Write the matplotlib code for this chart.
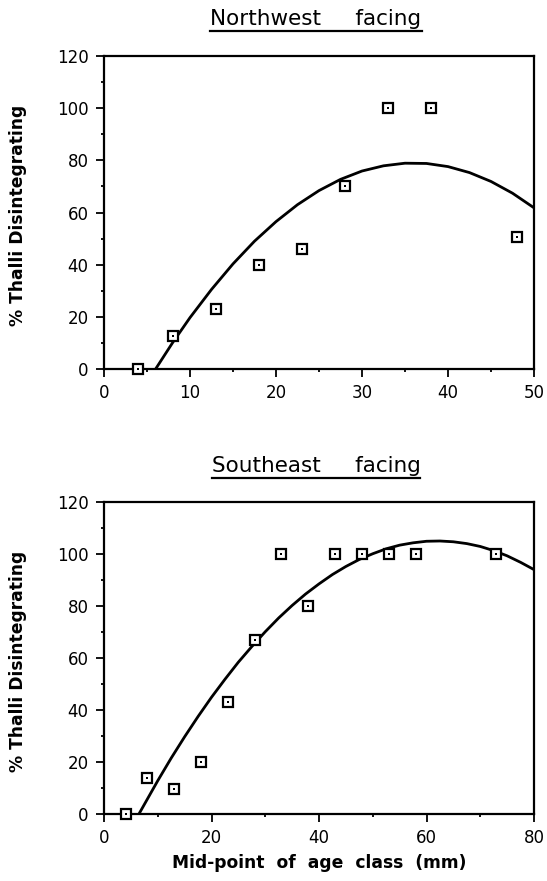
import matplotlib
matplotlib.use("Agg")
import matplotlib.pyplot as plt
from matplotlib.lines import Line2D
from matplotlib.ticker import MultipleLocator

# ---- data ----
nw_x = [4, 8, 13, 18, 23, 28, 33, 38, 48]
nw_y = [0, 12.5, 23, 40, 46, 70, 100, 100, 50.5]
nw_curve_x = [6, 8, 10, 12.5, 15, 17.5, 20, 22.5, 25, 27.5, 30, 32.5, 35, 37.5, 40, 42.5, 45, 47.5, 50]
nw_curve_y = [0, 10.2, 19.7, 30.5, 40.3, 49.0, 56.5, 63.0, 68.4, 72.7, 75.9, 77.9, 78.9, 78.8, 77.6, 75.3, 71.9, 67.4, 61.8]

se_x = [4, 8, 13, 18, 23, 28, 33, 38, 43, 48, 53, 58, 73]
se_y = [0, 14, 9.5, 20, 43, 67, 100, 80, 100, 100, 100, 100, 100]
se_curve_x = [6.5, 10, 12.5, 15, 17.5, 20, 22.5, 25, 27.5, 30, 32.5, 35, 37.5, 40, 42.5, 45, 47.5, 50,
              52.5, 55, 57.5, 60, 62.5, 65, 67.5, 70, 72.5, 75, 77.5, 80]
se_curve_y = [0, 12.8, 21.5, 29.7, 37.5, 44.9, 51.8, 58.4, 64.4, 70.1, 75.4, 80.2, 84.6, 88.5, 92.1, 95.2, 97.9, 100.1,
              102.0, 103.4, 104.3, 104.9, 105.0, 104.7, 104.0, 102.9, 101.3, 99.3, 96.8, 94.0]

titles = ["Northwest     facing", "Southeast     facing"]
ylabel = "% Thalli Disintegrating"
xlabel = "Mid-point  of  age  class  (mm)"

W, H = 547, 881
fig = plt.figure(figsize=(W / 100, H / 100), dpi=100)
plt.rcParams['font.family'] = ['DejaVu Sans']

def px_axes(left, top, right, bottom):
    return fig.add_axes([left / W, 1 - bottom / H, (right - left) / W, (bottom - top) / H])

ax1 = px_axes(104, 56, 534, 369)
ax2 = px_axes(104, 502, 534, 814)

panels = [
    (ax1, nw_x, nw_y, nw_curve_x, nw_curve_y, 50, 10, 5, titles[0]),
    (ax2, se_x, se_y, se_curve_x, se_curve_y, 80, 20, 10, titles[1]),
]

for ax, x, y, cx, cy, xmax, xmaj, xmin, title in panels:
    ax.plot(cx, cy, color='black', lw=2.0, solid_capstyle='butt', zorder=2)
    ax.plot(x, y, linestyle='none', marker='s', markersize=6.8, markerfacecolor='white',
            markeredgecolor='black', markeredgewidth=1.6, zorder=3, clip_on=False)
    ax.plot(x, y, linestyle='none', marker='s', markersize=1.7, markerfacecolor='black',
            markeredgecolor='black', markeredgewidth=0, zorder=4, clip_on=False)
    ax.set_xlim(0, xmax)
    ax.set_ylim(0, 120)
    ax.xaxis.set_major_locator(MultipleLocator(xmaj))
    ax.xaxis.set_minor_locator(MultipleLocator(xmin))
    ax.yaxis.set_major_locator(MultipleLocator(20))
    ax.yaxis.set_minor_locator(MultipleLocator(10))
    ax.tick_params(which='major', direction='out', length=6, width=1.3, labelsize=12, pad=5,
                   top=False, right=False)
    ax.tick_params(which='minor', direction='out', length=2.5, width=1.3, top=False, right=False)
    for s in ax.spines.values():
        s.set_linewidth(1.6)
    ax.set_ylabel(ylabel, fontsize=12.3, fontweight='bold')
    ax.yaxis.set_label_coords(-0.178, 0.49)

ax2.set_xlabel(xlabel, fontsize=12.3, fontweight='bold', labelpad=5)

# titles with underline
fig.canvas.draw()
renderer = fig.canvas.get_renderer()
for ax, base_px, title in [(ax1, 25, titles[0]), (ax2, 472, titles[1])]:
    t = fig.text(316 / W, 1 - base_px / H, title, ha='center', va='baseline', fontsize=15.5)
    bb = t.get_window_extent(renderer=renderer)
    uy = 1 - (base_px + 6) / H
    fig.add_artist(Line2D([bb.x0 / W, bb.x1 / W], [uy, uy], color='black', lw=1.6,
                          transform=fig.transFigure))

fig.savefig("out.png", dpi=100)
